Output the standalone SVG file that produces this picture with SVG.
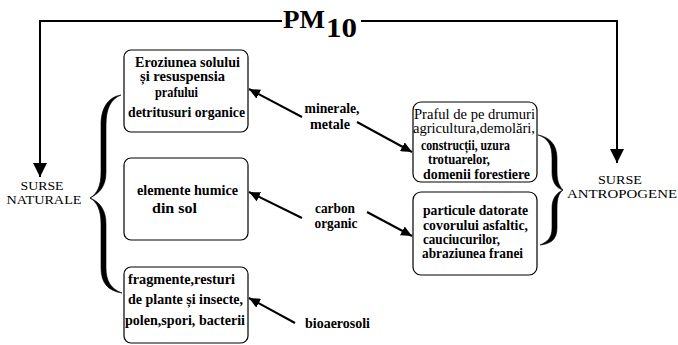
<svg xmlns="http://www.w3.org/2000/svg" width="678" height="345" viewBox="0 0 678 345">
<style>
.box{fill:#fff;stroke:#000;stroke-width:1.2}
.t{font-size:14px;font-weight:bold;fill:#000}
.r{font-weight:normal}
.lab{font-size:12.5px;font-weight:normal;fill:#000}
.con{fill:none;stroke:#000;stroke-width:2}
.brace{fill:#000;stroke:#000;stroke-width:0.6}
</style>
<defs>
<marker id="big" markerUnits="userSpaceOnUse" markerWidth="14" markerHeight="14" refX="14" refY="7" orient="auto">
<path d="M0,0 L14,7 L0,14 Z" fill="#000"/>
</marker>
<marker id="sm" markerUnits="userSpaceOnUse" markerWidth="11" markerHeight="10" refX="11" refY="5" orient="auto">
<path d="M0,0 L11,5 L0,10 Z" fill="#000"/>
</marker>
</defs>

<g font-family="Liberation Serif, Times New Roman, serif">
<g id="title">
<text x="283" y="28" font-weight="bold" font-size="25" textLength="42" lengthAdjust="spacingAndGlyphs">PM</text>
<text x="326" y="37" font-weight="bold" font-size="27" textLength="31" lengthAdjust="spacingAndGlyphs">10</text>
</g>

<g id="connectors">
<path class="con" d="M282,21 H40 V177" marker-end="url(#big)"/>
<path class="con" d="M361,21 H617 V163" marker-end="url(#big)"/>
<line class="con" x1="302" y1="117" x2="249" y2="89" marker-end="url(#sm)"/>
<line class="con" x1="357" y1="122" x2="412" y2="152" marker-end="url(#sm)"/>
<line class="con" x1="302" y1="218" x2="249" y2="192" marker-end="url(#sm)"/>
<line class="con" x1="367" y1="212" x2="412" y2="236" marker-end="url(#sm)"/>
<line class="con" x1="295" y1="323" x2="249" y2="298" marker-end="url(#sm)"/>
</g>

<g id="brace-natural">
<path class="brace" d="M121,95 C108,97 101,108 101,125 L101,172 C101,186 97,194 90,198 C100,193 106,186 106,172 L106,125 C106,108 111,99 121,95 Z"/>
<path class="brace" d="M90,198 C97,202 101,210 101,224 L101,268 C101,283 108,291 122,293 C111,289 106,281 106,268 L106,224 C106,210 100,202 90,198 Z"/>
</g>

<g id="brace-antropogene">
<path class="brace" d="M538,135 C549,137 557,144 557,158 L557,172 C557,182 560,187 563,190 C556,188 552,182 552,172 L552,158 C552,145 548,138 538,135 Z"/>
<path class="brace" d="M563,190 C559,193 557,198 557,208 L557,228 C557,240 550,244 540,245 C547,242 552,238 552,228 L552,208 C552,199 556,193 563,190 Z"/>
</g>

<g id="surse-naturale">
<text class="lab" x="42" y="190" text-anchor="middle" textLength="43" lengthAdjust="spacingAndGlyphs">SURSE</text>
<text class="lab" x="44" y="204" text-anchor="middle" textLength="75" lengthAdjust="spacingAndGlyphs">NATURALE</text>
</g>

<g id="surse-antropogene">
<text class="lab" x="620" y="184" text-anchor="middle" textLength="44" lengthAdjust="spacingAndGlyphs">SURSE</text>
<text class="lab" x="567" y="198" textLength="110" lengthAdjust="spacingAndGlyphs">ANTROPOGENE</text>
</g>

<g id="eroziunea">
<rect class="box" x="124" y="50" width="124" height="82" rx="7"/>
<text class="t" x="135" y="67" textLength="105" lengthAdjust="spacingAndGlyphs">Eroziunea solului</text>
<text class="t" x="140" y="81" textLength="85" lengthAdjust="spacingAndGlyphs">și resuspensia</text>
<text class="t" x="155" y="97" textLength="43" lengthAdjust="spacingAndGlyphs">prafului</text>
<text class="t" x="128" y="117" textLength="117" lengthAdjust="spacingAndGlyphs">detritusuri organice</text>
</g>

<g id="humice">
<rect class="box" x="124" y="158" width="124" height="82" rx="7"/>
<text class="t" x="137" y="195" textLength="101" lengthAdjust="spacingAndGlyphs">elemente humice</text>
<text class="t" x="152" y="213" textLength="45" lengthAdjust="spacingAndGlyphs">din sol</text>
</g>

<g id="fragmente">
<rect class="box" x="124" y="267" width="124" height="76" rx="7"/>
<text class="t" x="128" y="284" textLength="107" lengthAdjust="spacingAndGlyphs">fragmente,resturi</text>
<text class="t" x="128" y="304" textLength="115" lengthAdjust="spacingAndGlyphs">de plante și insecte,</text>
<text class="t" x="125" y="325" textLength="120" lengthAdjust="spacingAndGlyphs">polen,spori, bacterii</text>
</g>

<g id="praful">
<rect class="box" x="413" y="102" width="124" height="80" rx="8"/>
<text class="t r" x="414" y="119" textLength="121" lengthAdjust="spacingAndGlyphs">Praful de pe drumuri</text>
<text class="t r" x="413" y="133" textLength="122" lengthAdjust="spacingAndGlyphs">agricultura,demolări,</text>
<text class="t" x="421" y="150" textLength="89" lengthAdjust="spacingAndGlyphs">construcții, uzura</text>
<text class="t" x="428" y="164" textLength="62" lengthAdjust="spacingAndGlyphs">trotuarelor,</text>
<text class="t" x="423" y="179" textLength="107" lengthAdjust="spacingAndGlyphs">domenii forestiere</text>
</g>

<g id="particule">
<rect class="box" x="413" y="192" width="124" height="83" rx="8"/>
<text class="t" x="423" y="215" textLength="105" lengthAdjust="spacingAndGlyphs">particule datorate</text>
<text class="t" x="423" y="230" textLength="105" lengthAdjust="spacingAndGlyphs">covorului asfaltic,</text>
<text class="t" x="423" y="244" textLength="77" lengthAdjust="spacingAndGlyphs">cauciucurilor,</text>
<text class="t" x="422" y="258" textLength="101" lengthAdjust="spacingAndGlyphs">abraziunea franei</text>
</g>

<g id="label-minerale">
<text class="t" x="332" y="113" text-anchor="middle" textLength="55" lengthAdjust="spacingAndGlyphs">minerale,</text>
<text class="t" x="330" y="129" text-anchor="middle" textLength="40" lengthAdjust="spacingAndGlyphs">metale</text>
</g>

<g id="label-carbon">
<text class="t" x="335" y="213" text-anchor="middle" textLength="40" lengthAdjust="spacingAndGlyphs">carbon</text>
<text class="t" x="336" y="228" text-anchor="middle" textLength="43" lengthAdjust="spacingAndGlyphs">organic</text>
</g>

<g id="label-bioaerosoli">
<text class="t" x="305" y="328" textLength="65" lengthAdjust="spacingAndGlyphs">bioaerosoli</text>
</g>
</g>
</svg>
